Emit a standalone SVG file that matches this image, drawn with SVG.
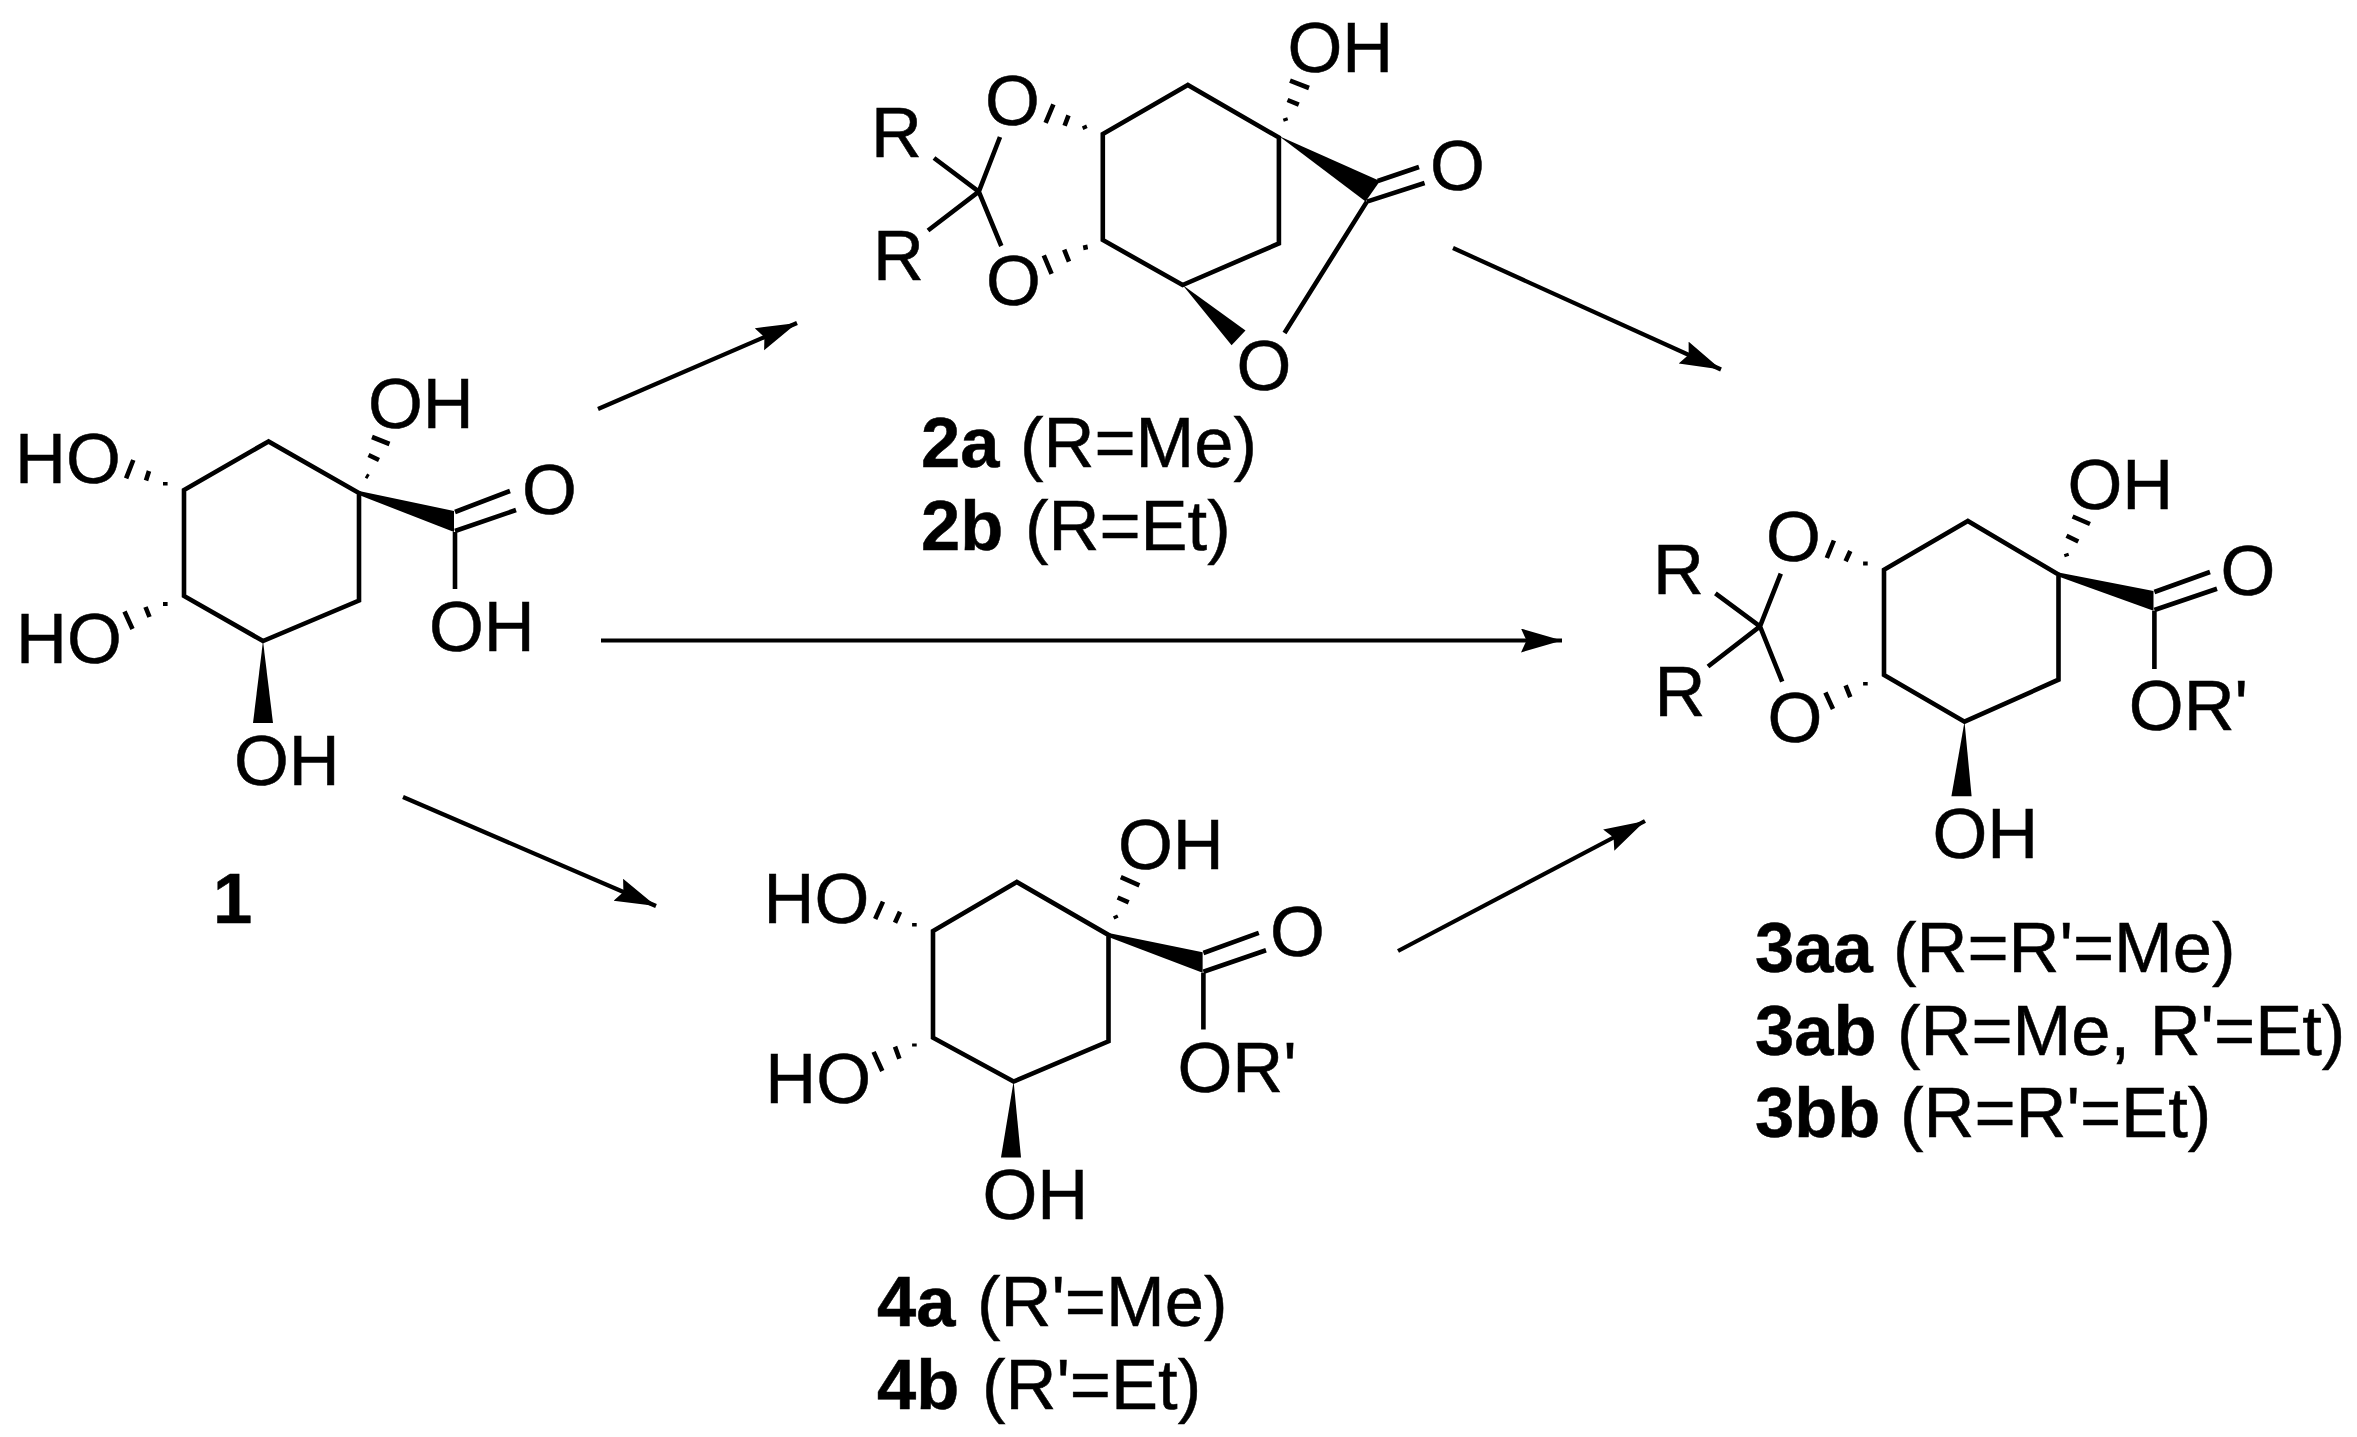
<svg xmlns="http://www.w3.org/2000/svg" width="2357" height="1437" viewBox="0 0 2357 1437">
<style>
text{font-family:"Liberation Sans",Arial,sans-serif;font-size:70.5px;fill:#000;stroke:#000;stroke-width:.5}
.b{font-weight:700}
.l{fill:none;stroke:#000;stroke-width:4.6;stroke-linejoin:miter}
.h{fill:none;stroke:#000;stroke-width:4.6}
.w{fill:#000;stroke:none}
.a{fill:none;stroke:#000;stroke-width:4.2}
</style>
<defs>
<marker id="arrow" markerUnits="userSpaceOnUse" markerWidth="44" markerHeight="26" refX="41" refY="12" orient="auto">
<path d="M41 12 L0 0 L5.5 12 L0 24 Z" fill="#000"/>
</marker>
</defs>
<rect width="2357" height="1437" fill="#fff"/>
<g id="connectors">
<line class="a" x1="598" y1="409" x2="797" y2="323" marker-end="url(#arrow)"/>
<line class="a" x1="601" y1="640.5" x2="1562" y2="640.5" marker-end="url(#arrow)"/>
<line class="a" x1="403" y1="797" x2="656" y2="906" marker-end="url(#arrow)"/>
<line class="a" x1="1453" y1="248" x2="1721" y2="369.5" marker-end="url(#arrow)"/>
<line class="a" x1="1398" y1="951" x2="1645" y2="821" marker-end="url(#arrow)"/>
</g>
<g id="compound-1">
<path class="l" d="M268.5 441.4L184 490V596L263 641L359 600.5V493Z"/>
<path class="w" d="M359 491L454 511V532L359 495Z"/>
<path class="l" d="M455 512L510 491M455 531L516 510M455 532V589"/>
<path class="w" d="M263 641L253 723H273Z"/>
<path class="h" d="M165.3 482V485.5M149 471L146 480.5M133.3 460L126.1 478.4M165.3 602V606M145.5 607L149.5 617M124.5 611.5L132.5 629M366 475.5L368.5 477M368.5 455L379 460M372 437L389.5 444"/>
<text x="368" y="428">OH</text>
<text x="15" y="483">HO</text>
<text x="522" y="514">O</text>
<text x="429" y="651">OH</text>
<text x="16" y="663">HO</text>
<text x="234" y="785">OH</text>
<text class="b" x="213" y="923">1</text>
</g>
<g id="compound-2">
<path class="l" d="M1187.8 85L1102.8 134V240L1182.6 285L1278.9 243.4V137.6Z"/>
<path class="w" d="M1278.9 136L1379.9 181L1365.6 201.6Z"/>
<path class="l" d="M1377.7 181L1419 167M1366.9 201.6L1424.6 183M1366.9 201.6L1284.5 333"/>
<path class="w" d="M1182.6 285L1245.5 330.4L1231.6 345.2Z"/>
<path class="h" d="M1285 118L1286 121M1287.5 100L1298.8 104.7M1290 80.6L1309 88M1084 125.5L1085.5 129M1068.5 115.4L1064.6 125.8M1053.4 104.3L1045.6 122.8M1085 245L1085.9 249.7M1064.2 249.7L1069 261.6M1043.8 255.3L1051.6 273.8"/>
<path class="l" d="M978.8 191.6L1000 137M978.8 191.6L1001.3 246M978.8 191.6L934 158M978.8 191.6L928 230.5"/>
<text x="985" y="125">O</text>
<text x="871" y="157">R</text>
<text x="873" y="280">R</text>
<text x="986" y="305">O</text>
<text x="1287.5" y="72">OH</text>
<text x="1430" y="190">O</text>
<text x="1236.5" y="390">O</text>
<text><tspan class="b" x="921" y="467">2a</tspan> <tspan x="1020" y="467">(R=Me)</tspan></text>
<text><tspan class="b" x="921" y="550">2b</tspan> <tspan x="1025" y="550">(R=Et)</tspan></text>
</g>
<g id="compound-3">
<path class="l" d="M1967.8 521L1884 569.8V675L1964.5 721.7L2058.5 679.7V574.5Z"/>
<path class="w" d="M2058.5 572.5L2153.5 591V610.8L2058.5 576.5Z"/>
<path class="l" d="M2154.4 592L2210 572M2154.4 610L2217 588.7M2154.4 610.8V669"/>
<path class="w" d="M1964.5 721.7L1951.4 796.3H1971.6Z"/>
<path class="h" d="M2066 553.5L2067 556.5M2066.5 535.8L2078.3 541.5M2072.6 516.5L2090 524M1865.4 561.5V565.5M1850.3 551L1845.6 561.3M1833.9 540.5L1826.8 558M1865.4 682V685.4M1845.6 685.4L1850.3 697.2M1825.4 692.5L1833 709"/>
<path class="l" d="M1760 626.4L1780.8 573.6M1760 626.4L1782.2 681.6M1760 626.4L1715.4 593.4M1760 626.4L1708 666.5"/>
<text x="1766" y="561">O</text>
<text x="1653" y="593.5">R</text>
<text x="1654.5" y="716">R</text>
<text x="1767.5" y="741.5">O</text>
<text x="2067.5" y="508.5">OH</text>
<text x="2220.5" y="594.5">O</text>
<text x="2128.8" y="730">OR'</text>
<text x="1932.5" y="857.5">OH</text>
<text><tspan class="b" x="1755" y="972">3aa</tspan> <tspan x="1893" y="972">(R=R'=Me)</tspan></text>
<text><tspan class="b" x="1755" y="1054.5">3ab</tspan> <tspan x="1897" y="1054.5">(R=Me, R'=Et)</tspan></text>
<text><tspan class="b" x="1755" y="1137">3bb</tspan> <tspan x="1900" y="1137">(R=R'=Et)</tspan></text>
</g>
<g id="compound-4">
<path class="l" d="M1016.8 882L933 931V1037.7L1013.6 1081.5L1108.5 1041.3V934.9Z"/>
<path class="w" d="M1108.5 933L1202.6 952.3V972.7L1108.5 937Z"/>
<path class="l" d="M1203.4 953L1258.8 932.8M1203.4 971.8L1266 950.3M1203.4 972.7V1029.5"/>
<path class="w" d="M1013.6 1081.5L1001 1157.5H1021Z"/>
<path class="h" d="M1115 915.5L1116.5 918.5M1117.6 897.5L1128.7 902.4M1120.8 877.2L1139.4 885.3M914.4 923V926.5M900 911.7L895 922.7M883 901.6L875.2 919M914.4 1043.5V1046.5M895 1046.6L899.4 1058.8M873.6 1051.9L882.3 1071"/>
<text x="763.5" y="923">HO</text>
<text x="765.3" y="1103">HO</text>
<text x="1118" y="869">OH</text>
<text x="1270" y="955.5">O</text>
<text x="1177.5" y="1091.5">OR'</text>
<text x="982.5" y="1218.5">OH</text>
<text><tspan class="b" x="877" y="1326">4a</tspan> <tspan x="977" y="1326">(R'=Me)</tspan></text>
<text><tspan class="b" x="877" y="1409">4b</tspan> <tspan x="982" y="1409">(R'=Et)</tspan></text>
</g>
</svg>
